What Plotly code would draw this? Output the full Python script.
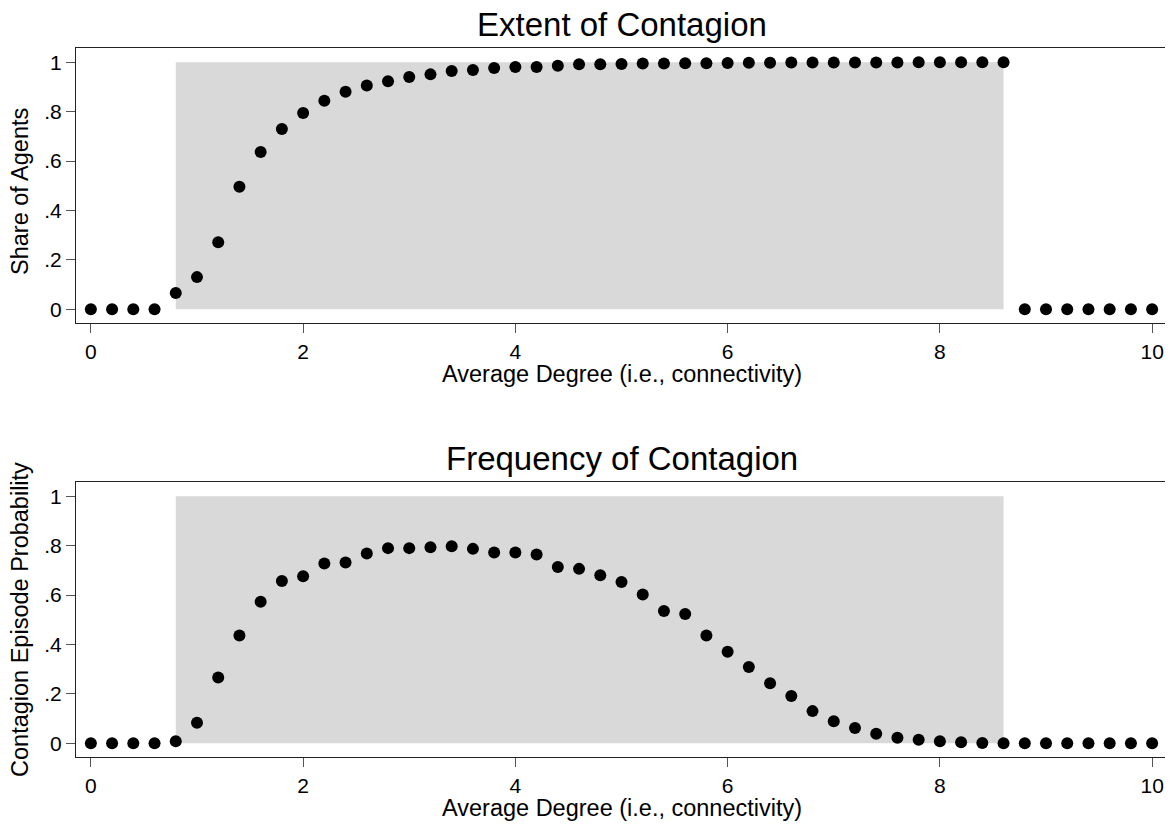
import plotly.graph_objects as go

# ---- data ----
degree = [0.0, 0.2, 0.4, 0.6, 0.8, 1.0, 1.2, 1.4, 1.6, 1.8,
          2.0, 2.2, 2.4, 2.6, 2.8, 3.0, 3.2, 3.4, 3.6, 3.8,
          4.0, 4.2, 4.4, 4.6, 4.8, 5.0, 5.2, 5.4, 5.6, 5.8,
          6.0, 6.2, 6.4, 6.6, 6.8, 7.0, 7.2, 7.4, 7.6, 7.8,
          8.0, 8.2, 8.4, 8.6, 8.8, 9.0, 9.2, 9.4, 9.6, 9.8, 10.0]

extent = [0, 0, 0, 0, 0.066, 0.130, 0.271, 0.496, 0.637, 0.730,
          0.795, 0.844, 0.881, 0.906, 0.923, 0.940, 0.951, 0.965, 0.969, 0.977,
          0.981, 0.981, 0.986, 0.992, 0.992, 0.993, 0.995, 0.995, 0.996, 0.996,
          0.997, 0.998, 0.998, 0.999, 0.999, 0.999, 0.999, 0.999, 0.999, 1.0,
          1.0, 1.0, 1.0, 1.0, 0, 0, 0, 0, 0, 0, 0]

frequency = [0, 0, 0, 0, 0.008, 0.083, 0.266, 0.436, 0.573, 0.657,
             0.676, 0.728, 0.732, 0.768, 0.790, 0.790, 0.794, 0.798, 0.787, 0.772,
             0.772, 0.764, 0.714, 0.706, 0.680, 0.653, 0.602, 0.535, 0.523, 0.436,
             0.370, 0.309, 0.243, 0.191, 0.130, 0.089, 0.062, 0.038, 0.022, 0.014,
             0.008, 0.004, 0.001, 0.0, 0, 0, 0, 0, 0, 0, 0]

shade_x = [0.8, 8.6]
shade_y = [0, 1]

x_ticks = [0, 2, 4, 6, 8, 10]
x_tick_labels = ["0", "2", "4", "6", "8", "10"]
y_ticks = [0, 0.2, 0.4, 0.6, 0.8, 1]
y_tick_labels = ["0", ".2", ".4", ".6", ".8", "1"]

titles = ["Extent of Contagion", "Frequency of Contagion"]
x_title = "Average Degree (i.e., connectivity)"
y_titles = ["Share of Agents", "Contagion Episode Probability"]

# ---- figure ----
# the page body has an 8px default margin, so the figure is laid out in
# coordinates shifted by that offset
OFF = 8
W, H = 1173 - OFF, 824 - OFF
FONT = "Liberation Sans, Arial, Helvetica, sans-serif"
L = 76 - OFF
R = W - (1166.7 - OFF)

fig = go.Figure()

fig.add_trace(go.Scatter(x=degree, y=extent, mode="markers",
                         marker=dict(color="black", size=12),
                         xaxis="x", yaxis="y", showlegend=False))
fig.add_trace(go.Scatter(x=degree, y=frequency, mode="markers",
                         marker=dict(color="black", size=12),
                         xaxis="x2", yaxis="y2", showlegend=False))

for xr_, yr_ in (("x", "y"), ("x2", "y2")):
    fig.add_shape(type="rect", xref=xr_, yref=yr_,
                  x0=shade_x[0], x1=shade_x[1], y0=shade_y[0], y1=shade_y[1],
                  fillcolor="#d9d9d9", line=dict(width=0), layer="below")

axis_common = dict(showgrid=False, zeroline=False, showline=True, mirror=True,
                   linecolor="#222222", linewidth=1.2,
                   ticks="outside", ticklen=9, tickwidth=1, tickcolor="#555555",
                   tickfont=dict(family=FONT, size=21, color="black"))

xr = [-0.14, 10.14]
yr = [-0.057, 1.059]


def py(pix):
    return 1 - (pix - OFF) / H


plot_w = W - L - R


def px(pix):
    return (pix - OFF - L) / plot_w


top_dom = [py(323.3), py(47.7)]
bot_dom = [py(757.3), py(481.7)]

fig.update_layout(
    width=W, height=H,
    margin=dict(l=L, r=R, t=0, b=0),
    paper_bgcolor="white", plot_bgcolor="white",
    font=dict(family=FONT, color="black"),
    xaxis=dict(domain=[0, 1], range=xr, anchor="y",
               tickvals=x_ticks, ticktext=x_tick_labels, **axis_common),
    yaxis=dict(domain=top_dom, range=yr, anchor="x",
               tickvals=y_ticks, ticktext=y_tick_labels, **axis_common),
    xaxis2=dict(domain=[0, 1], range=xr, anchor="y2",
                tickvals=x_ticks, ticktext=x_tick_labels, **axis_common),
    yaxis2=dict(domain=bot_dom, range=yr, anchor="x2",
                tickvals=y_ticks, ticktext=y_tick_labels, **axis_common),
)

ann = []
ann.append(dict(text=titles[0], x=0.5, y=py(24), xref="paper", yref="paper",
                showarrow=False, xanchor="center", yanchor="middle",
                font=dict(size=33, family=FONT, color="black")))
ann.append(dict(text=titles[1], x=0.5, y=py(458), xref="paper", yref="paper",
                showarrow=False, xanchor="center", yanchor="middle",
                font=dict(size=33, family=FONT, color="black")))
ann.append(dict(text=x_title, x=0.5, y=py(374), xref="paper", yref="paper",
                showarrow=False, xanchor="center", yanchor="middle",
                font=dict(size=23.5, family=FONT, color="black")))
ann.append(dict(text=x_title, x=0.5, y=py(808), xref="paper", yref="paper",
                showarrow=False, xanchor="center", yanchor="middle",
                font=dict(size=23.5, family=FONT, color="black")))
ann.append(dict(text=y_titles[0], x=px(20), y=py(191), xref="paper", yref="paper",
                showarrow=False, xanchor="center", yanchor="middle", textangle=-90,
                font=dict(size=23.5, family=FONT, color="black")))
ann.append(dict(text=y_titles[1], x=px(20), y=py(619), xref="paper", yref="paper",
                showarrow=False, xanchor="center", yanchor="middle", textangle=-90,
                font=dict(size=23.5, family=FONT, color="black")))
fig.update_layout(annotations=ann)

fig.write_html("out.html")
